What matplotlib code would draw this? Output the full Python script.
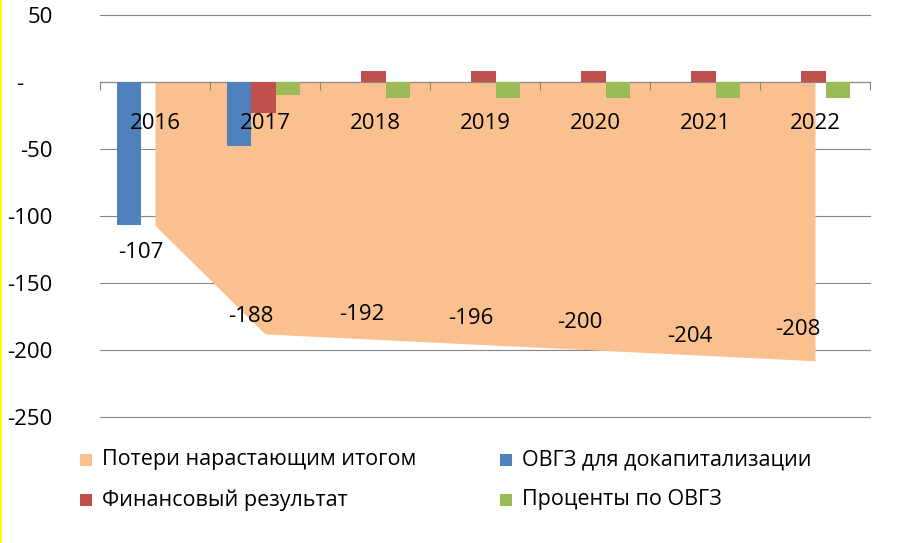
import matplotlib
matplotlib.use("Agg")
import matplotlib.pyplot as plt
from matplotlib.patches import Rectangle
import numpy as np

plt.rcParams['font.family'] = ['Open Sans', 'DejaVu Sans']

# ---- data ----
years = ["2016", "2017", "2018", "2019", "2020", "2021", "2022"]
cumulative_losses = [-107, -188, -192, -196, -200, -204, -208]
ovgz_recap = [-107, -48, 0, 0, 0, 0, 0]
financial_result = [0, -23, 8, 8, 8, 8, 8]
ovgz_interest = [0, -10, -12, -12, -12, -12, -12]
y_ticks = [50, 0, -50, -100, -150, -200, -250]

series_names = ["Потери нарастающим итогом", "ОВГЗ для докапитализации",
                "Финансовый результат", "Проценты по ОВГЗ"]
colors = ["#FAC090", "#4F81BD", "#C0504D", "#9BBB59"]

W, H = 912, 543
fig = plt.figure(figsize=(W / 100, H / 100), dpi=100)
ax = fig.add_axes([100 / W, 1 - 417 / H, 770 / W, 402 / H])

x = np.arange(len(years))

# horizontal gridlines
for v in y_ticks:
    ax.axhline(v, color="#868686", lw=0.8, zorder=0.5, clip_on=False)

# cumulative loss area
ax.fill_between(x, 0, cumulative_losses, color=colors[0], lw=0, zorder=1)

# clustered bars
bw = 0.223
offsets = [-0.235, -0.012, 0.211]
for vals, off, c in zip([ovgz_recap, financial_result, ovgz_interest], offsets, colors[1:]):
    ax.bar(x + off, vals, width=bw, color=c, lw=0, zorder=3)

ax.set_xlim(-0.5, len(years) - 0.5)
ax.set_ylim(-250, 50)

# axes styling
for s in ["top", "right", "left"]:
    ax.spines[s].set_visible(False)
ax.spines["bottom"].set_position(("data", 0))
ax.spines["bottom"].set_color("#868686")
ax.spines["bottom"].set_linewidth(0.8)
ax.spines["bottom"].set_zorder(2)
ax.set_xticks(np.arange(-0.5, len(years), 1.0))
ax.set_xticklabels([])
ax.tick_params(axis="x", direction="out", length=5.5, width=0.8, color="#868686")

ax.set_yticks(y_ticks)
ax.set_yticklabels([f"{v}" if v != 0 else "-     " for v in y_ticks], fontsize=16)
ax.tick_params(axis="y", length=0, pad=34)

# category labels
for xi, yr in zip(x, years):
    ax.text(xi, -31, yr, ha="center", va="center", fontsize=16, zorder=5)

# value labels for the cumulative area
label_offsets = [(-14, -27), (-14, 17), (-13, 25), (-14, 26), (-15, 28), (-15, 19), (-17, 31)]
for xi, v, (dx, dy) in zip(x, cumulative_losses, label_offsets):
    ax.annotate(f"{v}", (xi, v), xytext=(dx, dy), textcoords="offset pixels",
                ha="center", va="center", fontsize=16, zorder=5)

# legend
legend_items = [(80, 460), (500, 460), (80, 500), (500, 500)]
for (lx, ly), name, c in zip(legend_items, series_names, colors):
    fig.add_artist(Rectangle((lx / W, 1 - (ly + 6) / H), 12 / W, 12 / H,
                             transform=fig.transFigure, color=c, lw=0))
    fig.text((lx + 22) / W, 1 - ly / H, name, ha="left", va="center", fontsize=15.5)

# left edge stripe
fig.add_artist(Rectangle((0, 0), 2.5 / W, 1, transform=fig.transFigure,
                         color="#FFFF00", lw=0))

fig.savefig("out.png", dpi=100)
